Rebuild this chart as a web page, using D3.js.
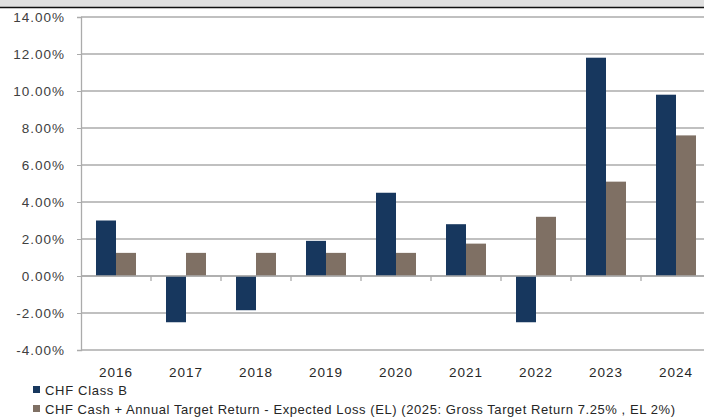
<!DOCTYPE html>
<html><head><meta charset="utf-8">
<script src="https://cdn.jsdelivr.net/npm/d3@7"></script>
<style>body{margin:0;background:#fff;}svg{display:block;font-family:"Liberation Sans",Arial,sans-serif;}</style>
</head><body><svg id="c" width="704" height="419"></svg>
<script>
const categories = ["2016","2017","2018","2019","2020","2021","2022","2023","2024"];
const classB = [3.0,-2.5,-1.85,1.9,4.5,2.8,-2.5,11.8,9.8];
const cashTarget = [1.25,1.25,1.25,1.25,1.25,1.75,3.2,5.1,7.6];
const yTicks = [-4,-2,0,2,4,6,8,10,12,14];
const seriesNames = ["CHF Class B","CHF Cash + Annual Target Return - Expected Loss (EL) (2025: Gross Target Return 7.25% , EL 2%)"];
const colors = ["#17375e","#7f7064"];

const svg = d3.select("#c");
svg.append("rect").attr("x",0).attr("y",0).attr("width",704).attr("height",7).attr("fill","#e0e0e0");
svg.append("line").attr("x1",0).attr("x2",704).attr("y1",7.5).attr("y2",7.5).attr("stroke","#111").attr("stroke-width",1.5);

const x = d3.scaleBand().domain(categories).range([81,711]).paddingInner(0).paddingOuter(0);
const y = d3.scaleLinear().domain([-4,14]).range([350,17]);
const inner = d3.scaleBand().domain([0,1]).range([0,40]);

// gridlines
svg.append("g").selectAll("line").data(yTicks).join("line")
  .attr("x1",81).attr("x2",711).attr("y1",d=>y(d)).attr("y2",d=>y(d))
  .attr("stroke","#ababab").attr("stroke-width",1.3);

// y axis
const yAxis = d3.axisLeft(y).tickValues(yTicks).tickSize(4).tickPadding(13).tickFormat(d=>d.toFixed(2)+"%");
const ya = svg.append("g").attr("transform","translate(81,0)").call(yAxis);
ya.select(".domain").attr("stroke","#ababab").attr("stroke-width",1.3);
ya.selectAll(".tick line").attr("stroke","#ababab");
ya.selectAll("text").attr("font-size",13.5).attr("fill","#404040")
  .attr("font-family","'Liberation Sans',Arial,sans-serif").style("letter-spacing","1px").attr("dx",1);

// bars
const data = [classB, cashTarget];
data.forEach((vals,si)=>{
  svg.append("g").selectAll("rect").data(vals).join("rect")
    .attr("x",(d,i)=>x(categories[i]) + (x.bandwidth()-40)/2 + inner(si))
    .attr("width",inner.bandwidth())
    .attr("y",d=>y(Math.max(0,d)))
    .attr("height",d=>Math.abs(y(d)-y(0)))
    .attr("fill",colors[si]);
});

// x axis at 0
svg.append("line").attr("x1",81).attr("x2",711).attr("y1",y(0)).attr("y2",y(0)).attr("stroke","#ababab").attr("stroke-width",1.3);
svg.append("g").selectAll("line").data(categories.slice(1)).join("line")
  .attr("x1",d=>x(d)).attr("x2",d=>x(d)).attr("y1",y(0)).attr("y2",y(0)+5)
  .attr("stroke","#ababab").attr("stroke-width",1.3);

svg.append("g").selectAll("text").data(categories).join("text")
  .attr("x",d=>x(d)+x.bandwidth()/2).attr("y",377)
  .attr("text-anchor","middle").attr("font-size",13.5).style("letter-spacing","1px")
  .attr("fill","#262626").text(d=>d);

// legend
const legendWidths = [82, 630];
const leg = svg.append("g");
seriesNames.forEach((n,i)=>{
  const yy = 390 + i*19;
  leg.append("rect").attr("x",33).attr("y",yy-4).attr("width",7).attr("height",7).attr("fill",colors[i]);
  leg.append("text").attr("x",45).attr("y",yy+4.5).attr("font-size",13)
    .attr("textLength",legendWidths[i]).attr("lengthAdjust","spacing")
    .attr("fill","#262626").text(n);
});
</script></body></html>
